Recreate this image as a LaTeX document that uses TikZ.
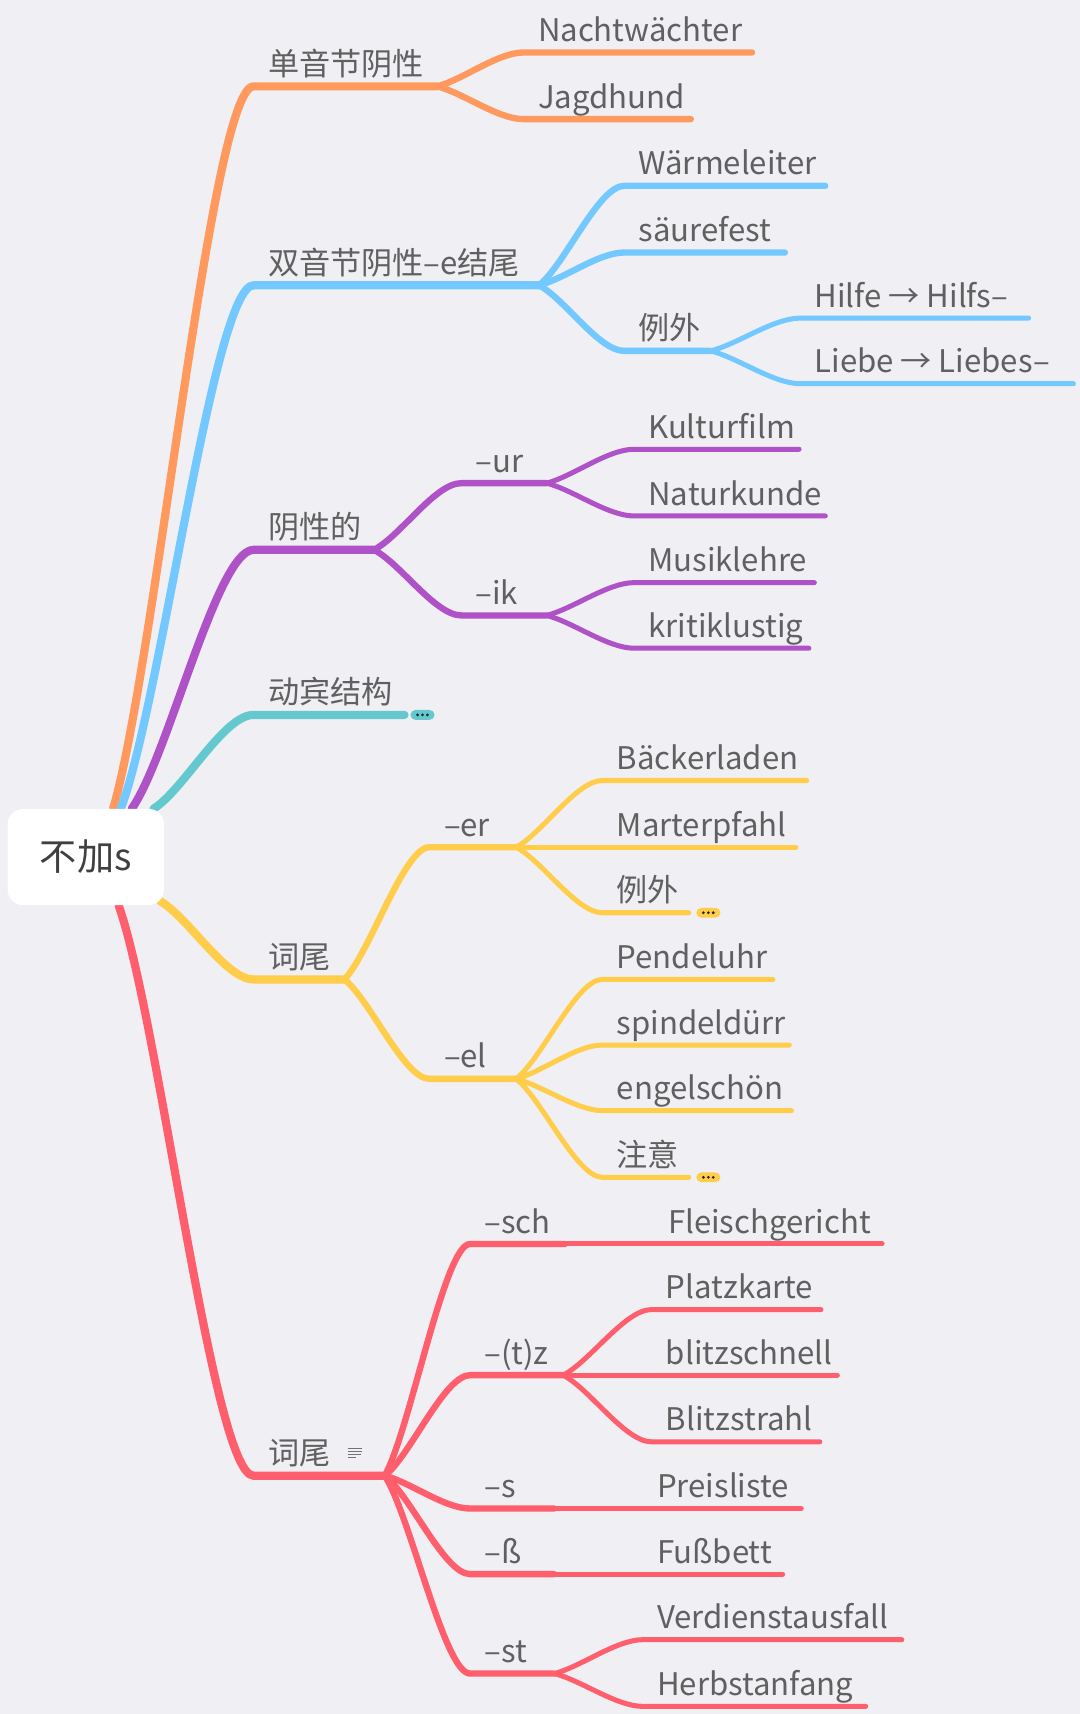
\documentclass[tikz,border=0pt]{standalone}
\usepackage{fontspec}
\setmainfont{Noto Sans CJK SC}
\usetikzlibrary{calc,backgrounds}
\definecolor{bgc}{RGB}{239,239,244}
\definecolor{txt}{RGB}{96,96,96}
\definecolor{corange}{RGB}{255,153,94}
\definecolor{cblue}{RGB}{115,201,255}
\definecolor{cpurple}{RGB}{175,82,199}
\definecolor{cteal}{RGB}{99,201,206}
\definecolor{cyellow}{RGB}{255,205,74}
\definecolor{cred}{RGB}{255,95,109}
\tikzset{
  branch/.style={to path={let \p1=(\tikztostart), \p2=(\tikztotarget) in
    .. controls ({\x1+0.3*(\x2-\x1)},{\y1+0.2*(\y2-\y1)}) and ({\x2-0.3*(\x2-\x1)},\y2) .. (\tikztotarget)}},
  l1/.style={line width=7.5pt,line cap=round},
  l2/.style={line width=5.8pt,line cap=round},
  l3/.style={line width=4.6pt,line cap=round},
  lbl/.style={anchor=base west,inner sep=0pt,text=txt,font=\fontsize{28.5}{34}\selectfont},
  rootbox/.style={fill=white,rounded corners=14pt,minimum width=143pt,minimum height=88pt,
    inner sep=0pt,text=black!75,font=\fontsize{34}{40}\selectfont},
  more/.style={rounded corners=4.5pt,minimum width=22pt,minimum height=9pt,inner sep=0pt}
}
\begin{document}
\begin{tikzpicture}[x=1pt,y=-1pt]
\node[rootbox] (root) at (78.5,784) {不加s};

% 单音节阴性
\coordinate (s1l) at (232,79); \coordinate (s1r) at (400,79);
\node[lbl] (s1) at (245,69) {单音节阴性};
\coordinate (s1al) at (479,48); \coordinate (s1ar) at (688,48);
\node[lbl] (s1a) at (492,38) {Nachtwächter};
\coordinate (s1bl) at (479,109); \coordinate (s1br) at (632,109);
\node[lbl] (s1b) at (492,99) {Jagdhund};

% 双音节阴性-e结尾
\coordinate (s2l) at (232,261); \coordinate (s2r) at (493,261);
\node[lbl] (s2) at (245,251) {双音节阴性–e结尾};
\coordinate (s2al) at (571,170); \coordinate (s2ar) at (755,170);
\node[lbl] (s2a) at (584,160) {Wärmeleiter};
\coordinate (s2bl) at (571,231); \coordinate (s2br) at (718,231);
\node[lbl] (s2b) at (584,221) {säurefest};
\coordinate (s2cl) at (571,321); \coordinate (s2cr) at (650,321);
\node[lbl] (s2c) at (584,311) {例外};
\coordinate (s2c1l) at (732,291); \coordinate (s2c1r) at (941,291);
\node[lbl] (s2c1) at (745,281) {Hilfe → Hilfs–};
\coordinate (s2c2l) at (732,351); \coordinate (s2c2r) at (982,351);
\node[lbl] (s2c2) at (745,341) {Liebe → Liebes–};

% 阴性的
\coordinate (s3l) at (232,503); \coordinate (s3r) at (342,503);
\node[lbl] (s3) at (245,493) {阴性的};
\coordinate (s3al) at (422,442); \coordinate (s3ar) at (500,442);
\node[lbl] (s3a) at (435,432) {–ur};
\coordinate (s3a1l) at (580,411); \coordinate (s3a1r) at (731,411);
\node[lbl] (s3a1) at (593,401) {Kulturfilm};
\coordinate (s3a2l) at (580,472); \coordinate (s3a2r) at (755,472);
\node[lbl] (s3a2) at (593,462) {Naturkunde};
\coordinate (s3bl) at (422,563); \coordinate (s3br) at (500,563);
\node[lbl] (s3b) at (435,553) {–ik};
\coordinate (s3b1l) at (580,533); \coordinate (s3b1r) at (745,533);
\node[lbl] (s3b1) at (593,523) {Musiklehre};
\coordinate (s3b2l) at (580,593); \coordinate (s3b2r) at (740,593);
\node[lbl] (s3b2) at (593,583) {kritiklustig};

% 动宾结构
\coordinate (s4l) at (232,654); \coordinate (s4r) at (370,654);
\node[lbl] (s4) at (245,644) {动宾结构};
\node[more,fill=cteal] (s4m) at (386.5,654) {};

% 词尾
\coordinate (s5l) at (232,896); \coordinate (s5r) at (315,896);
\node[lbl] (s5) at (245,886) {词尾};
\coordinate (s5al) at (393,775); \coordinate (s5ar) at (472,775);
\node[lbl] (s5a) at (406,765) {–er};
\coordinate (s5a1l) at (551,714); \coordinate (s5a1r) at (738,714);
\node[lbl] (s5a1) at (564,704) {Bäckerladen};
\coordinate (s5a2l) at (551,775); \coordinate (s5a2r) at (728,775);
\node[lbl] (s5a2) at (564,765) {Marterpfahl};
\coordinate (s5a3l) at (551,835); \coordinate (s5a3r) at (630,835);
\node[lbl] (s5a3) at (564,825) {例外};
\node[more,fill=cyellow] (s5a3m) at (648,835) {};
\coordinate (s5bl) at (393,987); \coordinate (s5br) at (472,987);
\node[lbl] (s5b) at (406,977) {–el};
\coordinate (s5b1l) at (551,896); \coordinate (s5b1r) at (707,896);
\node[lbl] (s5b1) at (564,886) {Pendeluhr};
\coordinate (s5b2l) at (551,956); \coordinate (s5b2r) at (722,956);
\node[lbl] (s5b2) at (564,946) {spindeldürr};
\coordinate (s5b3l) at (551,1016); \coordinate (s5b3r) at (724,1016);
\node[lbl] (s5b3) at (564,1006) {engelschön};
\coordinate (s5b4l) at (551,1077); \coordinate (s5b4r) at (630,1077);
\node[lbl] (s5b4) at (564,1067) {注意};
\node[more,fill=cyellow] (s5b4m) at (648,1077) {};

% 词尾 (note)
\coordinate (s6l) at (232,1350); \coordinate (s6r) at (352,1350);
\node[lbl] (s6) at (245,1340) {词尾};
\draw[black!55,line width=1.1pt] (318,1325) -- (331,1325) (318,1327.8) -- (331,1327.8)
  (318,1330.6) -- (330,1330.6) (318,1333.4) -- (326,1333.4);
\coordinate (s6al) at (430,1138); \coordinate (s6ar) at (517,1138);
\node[lbl] (s6a) at (443,1128) {–sch};
\coordinate (s6a1l) at (598,1138); \coordinate (s6a1r) at (807,1138);
\node[lbl] (s6a1) at (611,1128) {Fleischgericht};
\coordinate (s6bl) at (430,1258); \coordinate (s6br) at (515,1258);
\node[lbl] (s6b) at (443,1248) {–(t)z};
\coordinate (s6b1l) at (596,1198); \coordinate (s6b1r) at (751,1198);
\node[lbl] (s6b1) at (609,1188) {Platzkarte};
\coordinate (s6b2l) at (596,1258); \coordinate (s6b2r) at (766,1258);
\node[lbl] (s6b2) at (609,1248) {blitzschnell};
\coordinate (s6b3l) at (596,1319); \coordinate (s6b3r) at (750,1319);
\node[lbl] (s6b3) at (609,1309) {Blitzstrahl};
\coordinate (s6cl) at (430,1380); \coordinate (s6cr) at (507,1380);
\node[lbl] (s6c) at (443,1370) {–s};
\coordinate (s6c1l) at (588,1380); \coordinate (s6c1r) at (733,1380);
\node[lbl] (s6c1) at (601,1370) {Preisliste};
\coordinate (s6dl) at (430,1440); \coordinate (s6dr) at (507,1440);
\node[lbl] (s6d) at (443,1430) {–ß};
\coordinate (s6d1l) at (588,1440); \coordinate (s6d1r) at (716,1440);
\node[lbl] (s6d1) at (601,1430) {Fußbett};
\coordinate (s6el) at (430,1531); \coordinate (s6er) at (507,1531);
\node[lbl] (s6e) at (443,1521) {–st};
\coordinate (s6e1l) at (588,1500); \coordinate (s6e1r) at (825,1500);
\node[lbl] (s6e1) at (601,1490) {Verdienstausfall};
\coordinate (s6e2l) at (588,1561); \coordinate (s6e2r) at (792,1561);
\node[lbl] (s6e2) at (601,1551) {Herbstanfang};

% dots on the collapsed markers
\fill[black!85] ([xshift=-4.5]s4m.center) circle (1.4pt) (s4m.center) circle (1.4pt) ([xshift=4.5]s4m.center) circle (1.4pt);
\fill[black!85] ([xshift=-4.5]s5a3m.center) circle (1.4pt) (s5a3m.center) circle (1.4pt) ([xshift=4.5]s5a3m.center) circle (1.4pt);
\fill[black!85] ([xshift=-4.5]s5b4m.center) circle (1.4pt) (s5b4m.center) circle (1.4pt) ([xshift=4.5]s5b4m.center) circle (1.4pt);

\begin{scope}[on background layer]
\fill[bgc] (0,0) rectangle (988,1568);
% orange
\draw[l1,corange] ([xshift=25]root.north) to[branch] (s1l) -- (s1r);
\draw[l2,corange] (s1r) to[branch] (s1al) -- (s1ar);
\draw[l2,corange] (s1r) to[branch] (s1bl) -- (s1br);
% blue
\draw[l1,cblue] ([xshift=32]root.north) to[branch] (s2l) -- (s2r);
\draw[l2,cblue] (s2r) to[branch] (s2al) -- (s2ar);
\draw[l2,cblue] (s2r) to[branch] (s2bl) -- (s2br);
\draw[l2,cblue] (s2r) to[branch] (s2cl) -- (s2cr);
\draw[l3,cblue] (s2cr) to[branch] (s2c1l) -- (s2c1r);
\draw[l3,cblue] (s2cr) to[branch] (s2c2l) -- (s2c2r);
% purple
\draw[l1,cpurple] ([xshift=42]root.north) to[branch] (s3l) -- (s3r);
\draw[l2,cpurple] (s3r) to[branch] (s3al) -- (s3ar);
\draw[l2,cpurple] (s3r) to[branch] (s3bl) -- (s3br);
\draw[l3,cpurple] (s3ar) to[branch] (s3a1l) -- (s3a1r);
\draw[l3,cpurple] (s3ar) to[branch] (s3a2l) -- (s3a2r);
\draw[l3,cpurple] (s3br) to[branch] (s3b1l) -- (s3b1r);
\draw[l3,cpurple] (s3br) to[branch] (s3b2l) -- (s3b2r);
% teal
\draw[l1,cteal] ([xshift=62]root.north) to[branch] (s4l) -- (s4r);
% yellow
\draw[l1,cyellow] ([xshift=-4,yshift=4]root.south east) to[branch] (s5l) -- (s5r);
\draw[l2,cyellow] (s5r) to[branch] (s5al) -- (s5ar);
\draw[l2,cyellow] (s5r) to[branch] (s5bl) -- (s5br);
\draw[l3,cyellow] (s5ar) to[branch] (s5a1l) -- (s5a1r);
\draw[l3,cyellow] (s5ar) to[branch] (s5a2l) -- (s5a2r);
\draw[l3,cyellow] (s5ar) to[branch] (s5a3l) -- (s5a3r);
\draw[l3,cyellow] (s5br) to[branch] (s5b1l) -- (s5b1r);
\draw[l3,cyellow] (s5br) to[branch] (s5b2l) -- (s5b2r);
\draw[l3,cyellow] (s5br) to[branch] (s5b3l) -- (s5b3r);
\draw[l3,cyellow] (s5br) to[branch] (s5b4l) -- (s5b4r);
% red
\draw[l1,cred] ([xshift=30]root.south) to[branch] (s6l) -- (s6r);
\draw[l2,cred] (s6r) to[branch] (s6al) -- (s6ar);
\draw[l2,cred] (s6r) to[branch] (s6bl) -- (s6br);
\draw[l2,cred] (s6r) to[branch] (s6cl) -- (s6cr);
\draw[l2,cred] (s6r) to[branch] (s6dl) -- (s6dr);
\draw[l2,cred] (s6r) to[branch] (s6el) -- (s6er);
\draw[l3,cred] (s6ar) -- (s6a1l) -- (s6a1r);
\draw[l3,cred] (s6br) to[branch] (s6b1l) -- (s6b1r);
\draw[l3,cred] (s6br) to[branch] (s6b2l) -- (s6b2r);
\draw[l3,cred] (s6br) to[branch] (s6b3l) -- (s6b3r);
\draw[l3,cred] (s6cr) -- (s6c1l) -- (s6c1r);
\draw[l3,cred] (s6dr) -- (s6d1l) -- (s6d1r);
\draw[l3,cred] (s6er) to[branch] (s6e1l) -- (s6e1r);
\draw[l3,cred] (s6er) to[branch] (s6e2l) -- (s6e2r);
\end{scope}
\end{tikzpicture}
\end{document}
